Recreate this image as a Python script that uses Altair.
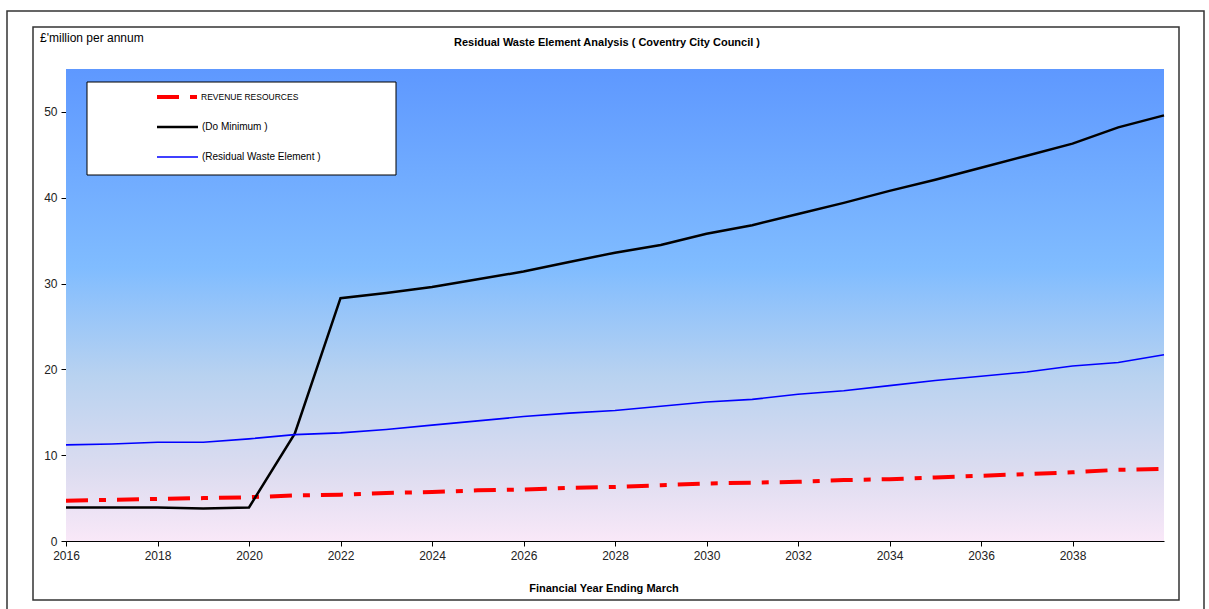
import altair as alt
import pandas as pd

years = list(range(2016, 2041))
revenue_resources = [4.7, 4.8, 4.9, 5.0, 5.1, 5.3, 5.4, 5.6, 5.7, 5.9, 6.0, 6.2, 6.3, 6.5,
                     6.7, 6.8, 6.9, 7.1, 7.2, 7.4, 7.6, 7.8, 8.0, 8.3, 8.4]
do_minimum = [3.9, 3.9, 3.9, 3.8, 3.9, 12.5, 28.3, 28.9, 29.6, 30.5, 31.4, 32.5, 33.6, 34.5,
              35.8, 36.8, 38.1, 39.4, 40.8, 42.1, 43.5, 44.9, 46.3, 48.2, 49.6]
residual_waste = [11.2, 11.3, 11.5, 11.5, 11.9, 12.4, 12.6, 13.0, 13.5, 14.0, 14.5, 14.9, 15.2,
                  15.7, 16.2, 16.5, 17.1, 17.5, 18.1, 18.7, 19.2, 19.7, 20.4, 20.8, 21.7]
series_names = ["REVENUE RESOURCES", "(Do Minimum )", "(Residual Waste Element )"]
x_ticks = list(range(2016, 2039, 2))
y_ticks = [0, 10, 20, 30, 40, 50]

W, H = 1098, 472
FONT = "Liberation Sans"

df = pd.DataFrame({"year": years, "revenue": revenue_resources,
                   "domin": do_minimum, "residual": residual_waste})
one = pd.DataFrame({"k": [0]})

xs = alt.Scale(domain=[2016, 2040], nice=False, zero=False)
ys = alt.Scale(domain=[0, 55], nice=False)

x_axis = alt.Axis(values=x_ticks, format="d", title=None, grid=False, tickSize=5,
                  labelFont=FONT, labelFontSize=12, labelColor="#222", labelPadding=4,
                  domainColor="black", tickColor="black", labelFlush=False)
y_axis = alt.Axis(values=y_ticks, title=None, grid=False, tickSize=5,
                  labelFont=FONT, labelFontSize=12, labelColor="#222", labelPadding=4,
                  domainColor="black", tickColor="black")

grad = alt.Gradient(gradient="linear", x1=0, x2=0, y1=0, y2=1,
                    stops=[alt.GradientStop(color="#5E98FF", offset=0),
                           alt.GradientStop(color="#80BCFF", offset=0.42),
                           alt.GradientStop(color="#B8D2F0", offset=0.65),
                           alt.GradientStop(color="#DCDCF0", offset=0.85),
                           alt.GradientStop(color="#F9E8F8", offset=1)])

bg = alt.Chart(one).mark_rect(fill=grad, stroke=None).encode(
    x=alt.value(0), x2=alt.value(W), y=alt.value(0), y2=alt.value(H))

base = alt.Chart(df)
line_rev = base.mark_line(color="#FF0000", strokeWidth=4, strokeDash=[22, 11, 7, 11]).encode(
    x=alt.X("year:Q", scale=xs, axis=x_axis), y=alt.Y("revenue:Q", scale=ys, axis=y_axis))
line_min = base.mark_line(color="black", strokeWidth=2.5).encode(
    x=alt.X("year:Q", scale=xs), y=alt.Y("domin:Q", scale=ys))
line_res = base.mark_line(color="#0000FF", strokeWidth=1.6).encode(
    x=alt.X("year:Q", scale=xs), y=alt.Y("residual:Q", scale=ys))

# frames
inner = alt.Chart(one).mark_rect(fill=None, stroke="#333", strokeWidth=1.5).encode(
    x=alt.value(-33), x2=alt.value(1113), y=alt.value(-42), y2=alt.value(531))
outer = alt.Chart(one).mark_rect(fill=None, stroke="#333", strokeWidth=1.5).encode(
    x=alt.value(-59), x2=alt.value(1138), y=alt.value(-58), y2=alt.value(560))

# texts
def txt(s, x, y, size, bold=False, align="left"):
    return alt.Chart(pd.DataFrame({"t": [s]})).mark_text(
        font=FONT, fontSize=size, fontWeight="bold" if bold else "normal",
        align=align, baseline="middle", color="black").encode(
        text="t:N", x=alt.value(x), y=alt.value(y))

t_unit = txt("£'million per annum", -26, -31, 12)
t_title = txt("Residual Waste Element Analysis ( Coventry City Council )", 541, -26, 11, True, "center")
t_xtitle = txt("Financial Year Ending March", 538, 520, 11, True, "center")

# legend
leg_box = alt.Chart(one).mark_rect(fill="white", stroke="black", strokeWidth=1).encode(
    x=alt.value(21), x2=alt.value(330), y=alt.value(13), y2=alt.value(106))
leg_rev = alt.Chart(one).mark_rule(color="#FF0000", strokeWidth=4, strokeDash=[22, 11, 7, 11]).encode(
    x=alt.value(91), x2=alt.value(132), y=alt.value(28))
leg_min = alt.Chart(one).mark_rule(color="black", strokeWidth=2.5).encode(
    x=alt.value(91), x2=alt.value(132), y=alt.value(58))
leg_res = alt.Chart(one).mark_rule(color="#0000FF", strokeWidth=1.6).encode(
    x=alt.value(91), x2=alt.value(132), y=alt.value(88))
lt1 = txt(series_names[0], 135, 28, 8.5)
lt2 = txt(series_names[1], 136, 58, 10)
lt3 = txt(series_names[2], 136, 88, 10)

chart = alt.layer(
    bg, line_rev, line_min, line_res, inner, outer, t_unit, t_title, t_xtitle,
    leg_box, leg_rev, leg_min, leg_res, lt1, lt2, lt3
).properties(
    width=W, height=H,
    autosize=alt.AutoSizeParams(type="none"),
    padding={"left": 66, "top": 69, "right": 45, "bottom": 68},
    background="white",
).configure_view(stroke=None)

chart.save("out.html", embed_options={"renderer": "svg", "actions": False})
